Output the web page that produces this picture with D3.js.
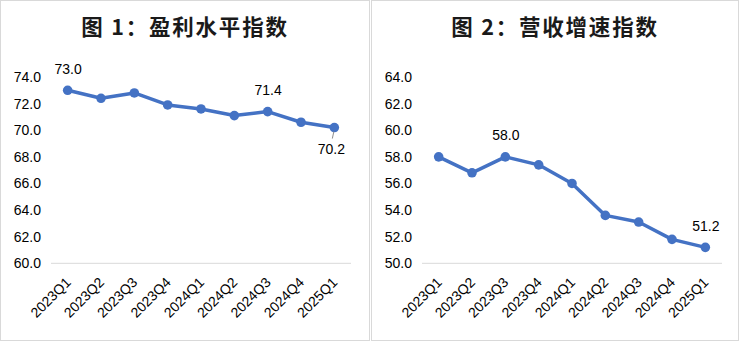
<!DOCTYPE html>
<html><head><meta charset="utf-8">
<script src="https://cdn.jsdelivr.net/npm/d3@7"></script>
<style>
html,body{margin:0;padding:0;background:#fff;}
svg{display:block;}
</style></head>
<body>
<svg id="c" width="740" height="342"></svg>
<script>
const categories = ["2023Q1","2023Q2","2023Q3","2023Q4","2024Q1","2024Q2","2024Q3","2024Q4","2025Q1"];
const profitValues = [73.0, 72.4, 72.8, 71.9, 71.6, 71.1, 71.4, 70.6, 70.2];
const revenueValues = [58.0, 56.8, 58.0, 57.4, 56.0, 53.6, 53.1, 51.8, 51.2];
const profitTicks = [60, 62, 64, 66, 68, 70, 72, 74];
const revenueTicks = [50, 52, 54, 56, 58, 60, 62, 64];
const titles = ["图 1：盈利水平指数", "图 2：营收增速指数"];
const profitLabeled = [0, 6, 8];
const profitLabelBelow = [8];
const revenueLabeled = [2, 8];

const svg = d3.select("#c");
const BLUE = "#4472C4";
const FONT = "'Liberation Sans', Arial, sans-serif";
const FS = 14;

function panel(ox, pw, title, values, ticks, labeled, below) {
  const g = svg.append("g").attr("transform", `translate(${ox},0)`);
  g.append("rect").attr("x", 0.5).attr("y", 0.5).attr("width", pw - 1).attr("height", 340)
    .attr("fill", "#fff").attr("stroke", "#d9d9d9").attr("stroke-width", 1);

  g.append("text").attr("x", pw / 2).attr("y", 35).attr("text-anchor", "middle")
    .attr("font-family", "'Noto Sans CJK SC', sans-serif").attr("font-weight", "bold")
    .attr("font-size", 21.5).attr("letter-spacing", 1.8).attr("fill", "#1a1a1a").text(title);

  const x = d3.scaleBand().domain(categories).range([51, 351]);
  const y = d3.scaleLinear().domain([ticks[0], ticks[ticks.length - 1]]).range([263.3, 77]);
  const cx = d => x(d) + x.bandwidth() / 2;

  // baseline
  g.append("line").attr("x1", 51).attr("x2", 351).attr("y1", y(ticks[0])).attr("y2", y(ticks[0]))
    .attr("stroke", "#d9d9d9").attr("stroke-width", 1);

  // y axis
  const ya = g.append("g").attr("transform", "translate(41,0)")
    .call(d3.axisLeft(y).tickValues(ticks).tickFormat(d3.format(".1f")).tickSize(0).tickPadding(0));
  ya.select(".domain").remove();
  ya.selectAll("text").attr("font-family", FONT).attr("font-size", FS).attr("fill", "#000");

  // x axis labels
  const xa = g.append("g").attr("transform", `translate(0,${y(ticks[0])})`)
    .call(d3.axisBottom(x).tickSize(0).tickPadding(0));
  xa.select(".domain").remove();
  xa.selectAll("text").attr("font-family", FONT).attr("font-size", FS).attr("fill", "#000")
    .attr("text-anchor", "end").attr("dy", null).attr("y", 0)
    .attr("transform", "translate(4,20) rotate(-45)");

  // line
  const pts = categories.map((c, i) => ({c, v: values[i], i}));
  g.append("path").datum(pts)
    .attr("d", d3.line().x(d => cx(d.c)).y(d => y(d.v)))
    .attr("fill", "none").attr("stroke", BLUE).attr("stroke-width", 3.5).attr("stroke-linejoin", "round");
  g.selectAll("circle").data(pts).join("circle")
    .attr("cx", d => cx(d.c)).attr("cy", d => y(d.v)).attr("r", 4.8).attr("fill", BLUE);

  // data labels
  labeled.forEach(i => {
    const d = pts[i];
    const isBelow = below.includes(i);
    if (isBelow) {
      g.append("line").attr("x1", cx(d.c) - 0.5).attr("y1", y(d.v) + 4).attr("x2", cx(d.c) - 2).attr("y2", y(d.v) + 11)
        .attr("stroke", "#8c8c8c").attr("stroke-width", 1);
    }
    g.append("text").attr("x", cx(d.c) + (isBelow ? -3 : 0.5)).attr("y", y(d.v) + (isBelow ? 26 : -16.5))
      .attr("text-anchor", "middle").attr("font-family", FONT).attr("font-size", FS).attr("fill", "#000")
      .text(d3.format(".1f")(d.v));
  });
}

panel(0, 370, titles[0], profitValues, profitTicks, profitLabeled, profitLabelBelow);
panel(371, 368, titles[1], revenueValues, revenueTicks, revenueLabeled, []);
</script>
</body></html>
